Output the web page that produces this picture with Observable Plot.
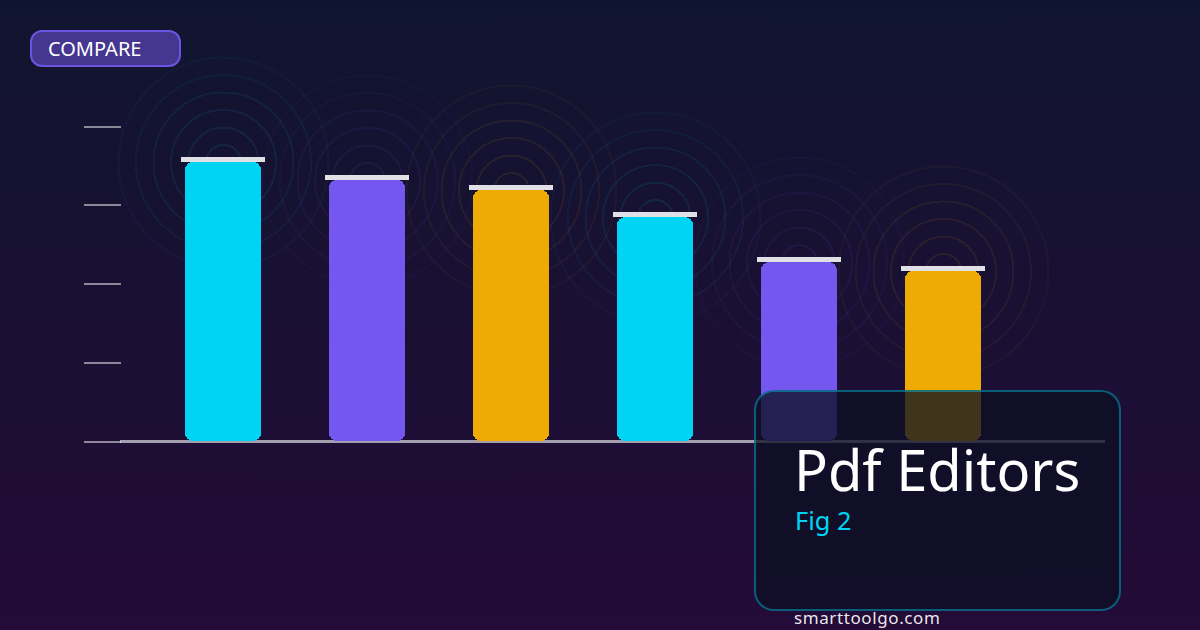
<!DOCTYPE html>
<html><head><meta charset="utf-8">
<script src="https://cdn.jsdelivr.net/npm/d3@7"></script>
<script src="https://cdn.jsdelivr.net/npm/@observablehq/plot@0.6"></script>
<style>
html,body{margin:0;padding:0;width:1200px;height:630px;overflow:hidden;background:linear-gradient(180deg,#10152f 0%,#240b38 100%);font-family:"Noto Sans",sans-serif;}
#chart{position:absolute;left:0;top:0;}
#chart svg{background:transparent;display:block;shape-rendering:crispEdges;}
.pill{position:absolute;left:30px;top:30px;width:151px;height:37px;box-sizing:border-box;border:2px solid #6a55e0;border-radius:12px;background:#453690;color:#fff;font-size:20px;line-height:33px;padding-left:16px;}
.panel{position:absolute;left:754px;top:390px;width:367px;height:221px;box-sizing:border-box;border:2px solid rgba(0,212,245,.4);border-radius:20px;background:rgba(13,16,36,.77);}
.t{position:absolute;left:795px;white-space:nowrap;}
#title{left:794px;top:437px;font-size:56px;line-height:64px;color:#fff;}
#fig{top:505px;font-size:25.4px;line-height:30px;color:#00d4f5;}
#site{left:794px;top:605px;font-size:17px;line-height:26px;color:rgba(255,255,255,.92);letter-spacing:.6px;}
</style></head><body>
<div id="chart"></div>
<div class="pill">COMPARE</div>
<div class="panel"></div>
<div class="t" id="title">Pdf Editors</div>
<div class="t" id="fig">Fig 2</div>
<div class="t" id="site">smarttoolgo.com</div>
<script>
const categories = ["A","B","C","D","E","F"];
const values = [88.9,83.2,80,71.4,57.1,54.3];
const colors = ["#00d4f5","#7357ee","#eeab04","#00d4f5","#7357ee","#eeab04"];
const yTicks = [0,25,50,75,100];
const ringRadii = [17.5,35,52.5,70,87.5,105];
const ringOpacities = [.095,.09,.08,.07,.055,.04];

const bars = categories.map((c,i)=>({c,v:values[i],col:colors[i]}));
const rings = bars.flatMap(b=>ringRadii.map((r,j)=>({...b,r,o:ringOpacities[j]})));

const plot = Plot.plot({
  width:1200,height:630,
  marginLeft:120,marginRight:95,marginTop:0,marginBottom:0,
  style:{background:"transparent"},
  x:{type:"band",domain:categories,range:[185,981],paddingInner:68/144,paddingOuter:0,round:false,axis:null},
  y:{domain:[0,100],range:[442,127],axis:null},
  r:{type:"identity"},
  color:{type:"identity"},
  opacity:{type:"identity"},
  marks:[
    Plot.dot(rings,{x:"c",y:"v",r:"r",stroke:"col",strokeOpacity:"o",strokeWidth:2,fill:"none"}),
    Plot.ruleY([0],{stroke:"#fff",strokeOpacity:.6,strokeWidth:3,dy:-1}),
    Plot.barY(bars,{x:"c",y:"v",fill:"col",rx:8,insetBottom:1}),
    Plot.barY(bars,{x:"c",y1:"v",y2:"v",fill:"#e0e0e6",insetTop:-5,insetLeft:-4,insetRight:-4}),
    Plot.axisY({anchor:"left",ticks:yTicks,tickSize:37,dx:1,dy:-1,label:null,tickFormat:()=>"",stroke:"#fff",strokeOpacity:.5,strokeWidth:2})
  ]
});
document.getElementById("chart").append(plot);
</script>
</body></html>
